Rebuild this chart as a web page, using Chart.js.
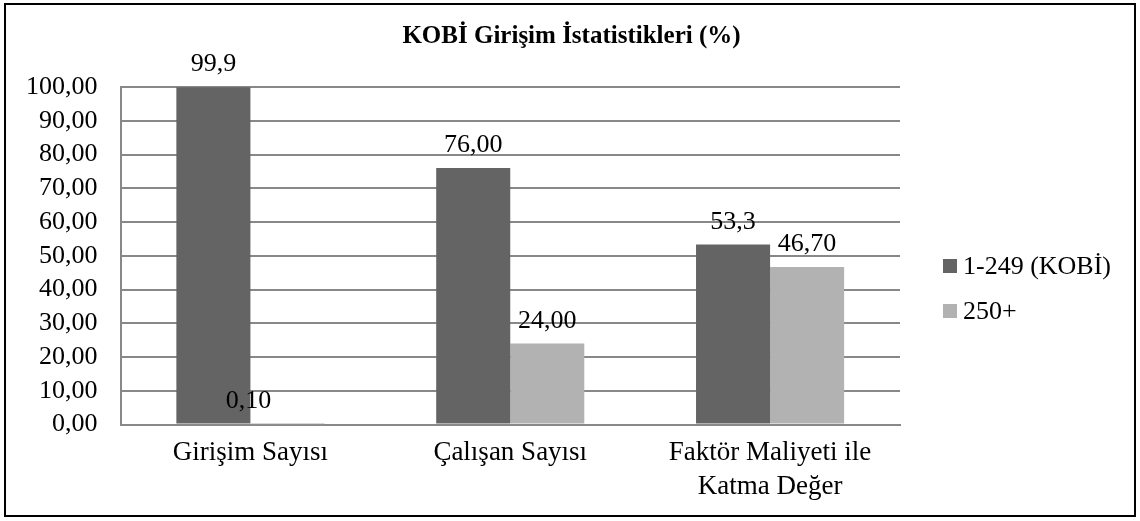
<!DOCTYPE html>
<html>
<head>
<meta charset="utf-8">
<script src="https://cdn.jsdelivr.net/npm/chart.js@4.4.0/dist/chart.umd.min.js"></script>
<style>
  body { margin: 0; background: #fff; }
  #wrap { width: 1140px; height: 521px; position: relative; }
</style>
</head>
<body>
<div id="wrap"><canvas id="chart" width="1140" height="521"></canvas></div>
<script>
const kategoriler = ["Girişim Sayısı", "Çalışan Sayısı", ["Faktör Maliyeti ile", "Katma Değer"]];
const seriAdlari = ["1-249 (KOBİ)", "250+"];
const kobiDegerleri = [99.9, 76.0, 53.3];
const buyukDegerleri = [0.1, 24.0, 46.7];
const kobiEtiketleri = ["99,9", "76,00", "53,3"];
const buyukEtiketleri = ["0,10", "24,00", "46,70"];

const yaziTipi = "'Liberation Serif', 'Times New Roman', serif";

// white background + black frame around everything
const cerceve = {
  id: "cerceve",
  beforeDraw: function (chart) {
    const { ctx } = chart;
    ctx.save();
    ctx.fillStyle = "#fff";
    ctx.fillRect(0, 0, chart.width, chart.height);
    ctx.strokeStyle = "#000";
    ctx.lineWidth = 2;
    ctx.strokeRect(5, 4, 1130, 512);
    ctx.restore();
  },
};

// value labels on top of the bars
const degerEtiketi = {
  id: "degerEtiketi",
  afterDatasetsDraw: function (chart, args, opts) {
    const { ctx } = chart;
    ctx.save();
    ctx.font = opts.font;
    ctx.fillStyle = "#000";
    ctx.textAlign = "center";
    ctx.textBaseline = "alphabetic";
    chart.data.datasets.forEach((ds, i) => {
      chart.getDatasetMeta(i).data.forEach((bar, j) => {
        let dx = 0;
        if (opts.kaydir && opts.kaydir.ds === i && opts.kaydir.idx === j) dx = opts.kaydir.dx;
        ctx.fillText(ds.etiketler[j], bar.x + dx, bar.y - 16);
      });
    });
    ctx.restore();
  },
};

// legend to the right of the plot, excel style
const lejant = {
  id: "lejant",
  afterDraw: function (chart, args, opts) {
    const { ctx } = chart;
    ctx.save();
    ctx.font = opts.font;
    ctx.textAlign = "left";
    ctx.textBaseline = "middle";
    chart.data.datasets.forEach((ds, i) => {
      const y = opts.y + i * opts.aralik;
      ctx.fillStyle = ds.backgroundColor;
      ctx.fillRect(opts.x, y - 7, 14, 14);
      ctx.fillStyle = "#000";
      ctx.fillText(ds.label, opts.x + 20, y + 1);
    });
    ctx.restore();
  },
};

document.addEventListener("DOMContentLoaded", function () {
  new Chart(document.getElementById("chart"), {
    type: "bar",
    data: {
      labels: kategoriler,
      datasets: [
        {
          label: seriAdlari[0],
          data: kobiDegerleri,
          etiketler: kobiEtiketleri,
          backgroundColor: "#646464",
          categoryPercentage: 0.57,
          barPercentage: 1,
        },
        {
          label: seriAdlari[1],
          data: buyukDegerleri,
          etiketler: buyukEtiketleri,
          backgroundColor: "#b2b2b2",
          categoryPercentage: 0.57,
          barPercentage: 1,
        },
      ],
    },
    options: {
      responsive: false,
      animation: false,
      layout: { padding: { top: 4, right: 0, left: 3, bottom: 5 } },
      scales: {
        x: {
          grid: { display: false, drawTicks: false },
          border: { color: "#888", width: 2 },
          ticks: {
            color: "#000",
            font: { family: yaziTipi, size: 27, lineHeight: 1.25 },
            padding: 12,
            maxRotation: 0,
          },
        },
        y: {
          min: 0,
          max: 100,
          grid: { color: "#888", lineWidth: 2, drawTicks: false },
          border: { color: "#888", width: 2 },
          ticks: {
            stepSize: 10,
            autoSkip: false,
            color: "#000",
            padding: 23,
            font: { family: yaziTipi, size: 26, lineHeight: 1 },
            callback: (v) => v.toFixed(2).replace(".", ","),
          },
        },
        // empty axis only to keep room for the legend on the right
        bos: {
          position: "right",
          grid: { display: false, drawTicks: false },
          border: { display: false },
          ticks: { display: false },
          afterFit: (s) => { s.width = 240; },
        },
      },
      plugins: {
        title: {
          display: true,
          text: "KOBİ Girişim İstatistikleri (%)",
          color: "#000",
          font: { family: yaziTipi, size: 25, weight: "bold" },
          padding: { top: 18, bottom: 35 },
        },
        legend: { display: false },
        tooltip: { enabled: false },
        degerEtiketi: {
          font: "26px " + yaziTipi,
          kaydir: { ds: 1, idx: 0, dx: -39 },
        },
        lejant: {
          font: "26px " + yaziTipi,
          x: 943,
          y: 266,
          aralik: 45,
        },
      },
    },
    plugins: [cerceve, degerEtiketi, lejant],
  });
});
</script>
</body>
</html>
